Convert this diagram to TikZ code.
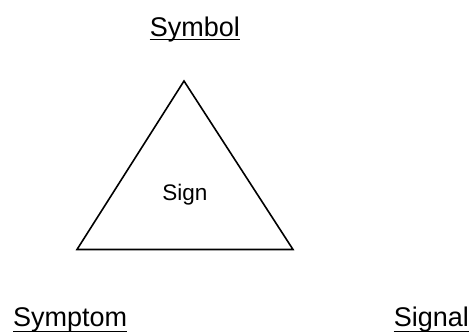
\documentclass[tikz,border=0pt]{standalone}
\usepackage{fontspec}
\setmainfont{Liberation Sans}
\begin{document}
\begin{tikzpicture}[x=1pt,y=-1pt,
  lbl/.style={inner sep=0pt,font=\fontsize{27}{32}\selectfont},
  mid/.style={inner sep=0pt,font=\fontsize{22.5}{27}\selectfont},
  uline/.style={line width=1.5pt},
  edge/.style={line width=1.6pt,line join=miter}]
\useasboundingbox (0,0) rectangle (471,335);
\coordinate (top) at (184,81);
\coordinate (bl) at (77,249.5);
\coordinate (br) at (293,249.5);
\draw[edge] (top) -- (bl) -- (br) -- cycle;
\node[mid,anchor=base] (sign) at (185,200) {Sign};
\node[lbl,anchor=base east] (symbol) at (240,36) {Symbol};
\node[lbl,anchor=base west] (symptom) at (13,326) {Symptom};
\node[lbl,anchor=base east] (signal) at (469,326) {Signal};
\draw[uline] ([yshift=-3.5pt]symbol.base west) -- ([yshift=-3.5pt]symbol.base east);
\foreach \n in {symptom,signal}
  \draw[uline] ([yshift=-5.5pt]\n.base west) -- ([yshift=-5.5pt]\n.base east);
\end{tikzpicture}
\end{document}
